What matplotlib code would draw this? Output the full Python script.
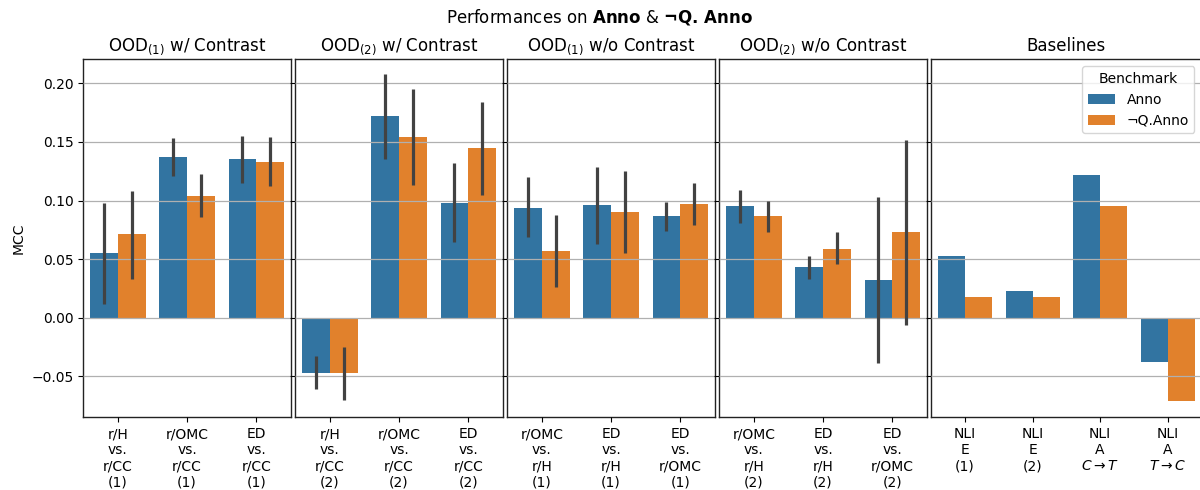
import numpy as np
import matplotlib
matplotlib.use("Agg")
import matplotlib.pyplot as plt

# ---------------- data ----------------
panel_titles = [r"OOD$_{(1)}$ w/ Contrast", r"OOD$_{(2)}$ w/ Contrast",
                r"OOD$_{(1)}$ w/o Contrast", r"OOD$_{(2)}$ w/o Contrast", "Baselines"]

cats_p1 = ["r/H\nvs.\nr/CC\n(1)", "r/OMC\nvs.\nr/CC\n(1)", "ED\nvs.\nr/CC\n(1)"]
cats_p2 = ["r/H\nvs.\nr/CC\n(2)", "r/OMC\nvs.\nr/CC\n(2)", "ED\nvs.\nr/CC\n(2)"]
cats_p3 = ["r/OMC\nvs.\nr/H\n(1)", "ED\nvs.\nr/H\n(1)", "ED\nvs.\nr/OMC\n(1)"]
cats_p4 = ["r/OMC\nvs.\nr/H\n(2)", "ED\nvs.\nr/H\n(2)", "ED\nvs.\nr/OMC\n(2)"]
cats_p5 = ["NLI\nE\n(1)", "NLI\nE\n(2)", "NLI\nA\n$C\\rightarrow T$", "NLI\nA\n$T\\rightarrow C$"]

anno_p1 = [0.055, 0.137, 0.135]
notq_p1 = [0.071, 0.104, 0.133]
anno_p1_lo = [0.012, 0.121, 0.115]
anno_p1_hi = [0.098, 0.153, 0.155]
notq_p1_lo = [0.033, 0.086, 0.112]
notq_p1_hi = [0.108, 0.123, 0.154]

anno_p2 = [-0.047, 0.172, 0.098]
notq_p2 = [-0.047, 0.154, 0.145]
anno_p2_lo = [-0.061, 0.135, 0.065]
anno_p2_hi = [-0.033, 0.208, 0.132]
notq_p2_lo = [-0.070, 0.113, 0.105]
notq_p2_hi = [-0.025, 0.195, 0.184]

anno_p3 = [0.094, 0.096, 0.087]
notq_p3 = [0.057, 0.090, 0.097]
anno_p3_lo = [0.069, 0.063, 0.074]
anno_p3_hi = [0.120, 0.129, 0.099]
notq_p3_lo = [0.026, 0.055, 0.079]
notq_p3_hi = [0.088, 0.125, 0.115]

anno_p4 = [0.095, 0.043, 0.032]
notq_p4 = [0.087, 0.059, 0.073]
anno_p4_lo = [0.081, 0.033, -0.039]
anno_p4_hi = [0.109, 0.053, 0.103]
notq_p4_lo = [0.073, 0.046, -0.006]
notq_p4_hi = [0.100, 0.073, 0.152]

anno_p5 = [0.053, 0.023, 0.122, -0.038]
notq_p5 = [0.018, 0.018, 0.095, -0.071]

series_names = ["Anno", "\u00acQ.Anno"]
colors = ["#3274a1", "#e1812c"]

panels = [
    (cats_p1, anno_p1, notq_p1, (anno_p1_lo, anno_p1_hi), (notq_p1_lo, notq_p1_hi)),
    (cats_p2, anno_p2, notq_p2, (anno_p2_lo, anno_p2_hi), (notq_p2_lo, notq_p2_hi)),
    (cats_p3, anno_p3, notq_p3, (anno_p3_lo, anno_p3_hi), (notq_p3_lo, notq_p3_hi)),
    (cats_p4, anno_p4, notq_p4, (anno_p4_lo, anno_p4_hi), (notq_p4_lo, notq_p4_hi)),
    (cats_p5, anno_p5, notq_p5, None, None),
]

# ---------------- figure ----------------
W, H = 1200, 490
fig = plt.figure(figsize=(12, 4.9), dpi=100)

lefts_px = [83.3, 295.3, 507.3, 719.3, 931.3]
widths_px = [207.5, 207.5, 207.5, 207.5, 270.0]
top_px, bot_px = 59.3, 417.3

axes = []
for i, (cats, a_vals, n_vals, a_ci, n_ci) in enumerate(panels):
    ax = fig.add_axes([lefts_px[i] / W, 1 - bot_px / H, widths_px[i] / W, (bot_px - top_px) / H],
                      sharey=axes[0] if axes else None)
    axes.append(ax)
    x = np.arange(len(cats))
    bw = 0.4
    for j, (vals, ci) in enumerate([(a_vals, a_ci), (n_vals, n_ci)]):
        xs = x - bw / 2 + j * bw
        ax.bar(xs, vals, width=bw, color=colors[j], label=series_names[j], zorder=1)
        if ci is not None:
            ax.vlines(xs, ci[0], ci[1], color="#424242", lw=2.3, zorder=3)
    ax.set_xlim(-0.5, len(cats) - 0.5)
    ax.set_xticks(x)
    ax.set_xticklabels(cats, fontsize=10)
    ax.set_title(panel_titles[i], fontsize=12)
    ax.yaxis.grid(True, color="#b0b0b0", lw=0.9, zorder=2)
    ax.set_axisbelow(False)
    for s in ax.spines.values():
        s.set_color("#222222")
        s.set_linewidth(1.0)
    if i > 0:
        ax.tick_params(axis="y", labelleft=False)

axes[0].set_ylim(-0.085, 0.2205)
axes[0].set_yticks([-0.05, 0.0, 0.05, 0.10, 0.15, 0.20])
axes[0].set_ylabel("MCC", fontsize=10)
axes[0].tick_params(axis="y", labelsize=10)

axes[4].legend(title="Benchmark", loc="upper right", fontsize=10, title_fontsize=10)

fig.suptitle(r"Performances on $\mathbf{Anno}$ & $\mathbf{\neg Q.\,Anno}$", fontsize=12, y=0.985)

fig.savefig("out.png", dpi=100)
